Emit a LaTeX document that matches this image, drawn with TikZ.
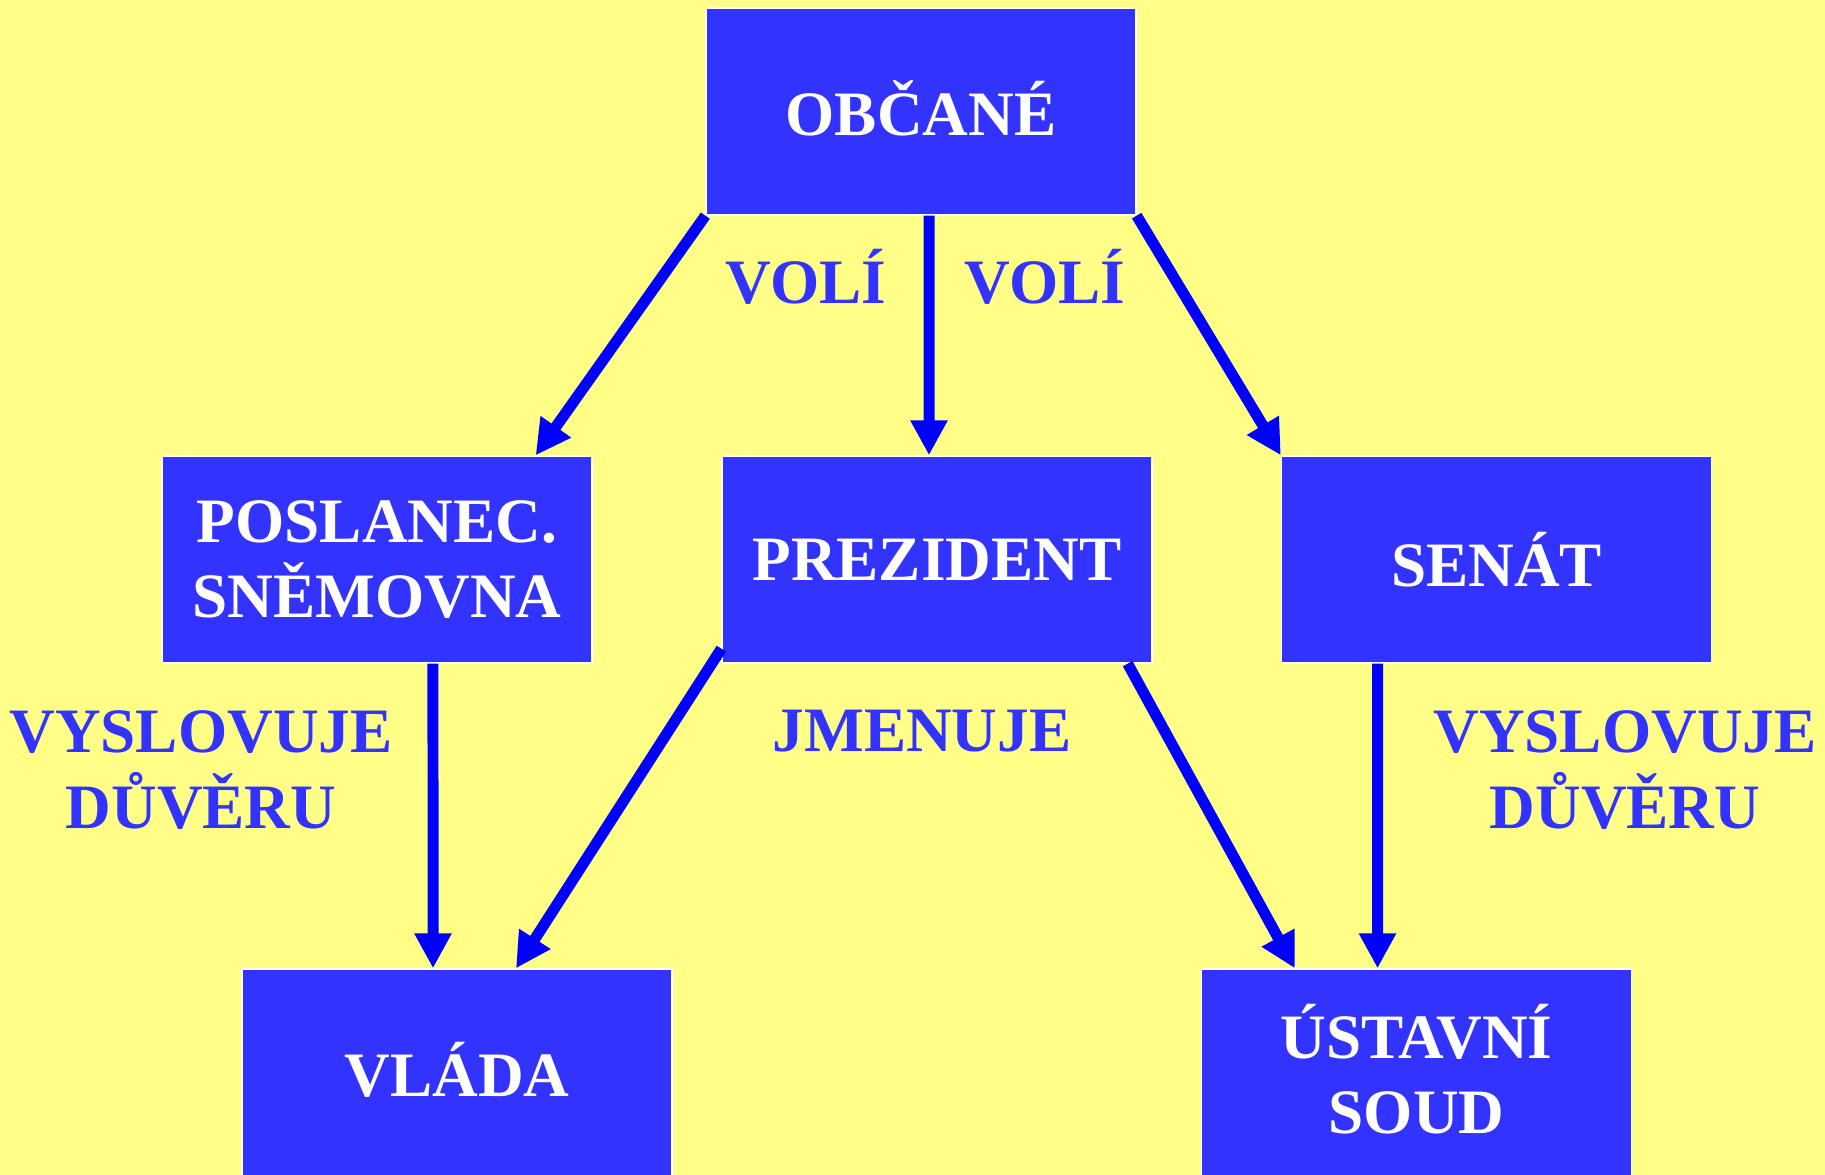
\documentclass[tikz,border=0pt]{standalone}
\usepackage{fontspec}
\setmainfont{Liberation Serif}
\usetikzlibrary{arrows.meta}
\definecolor{pozadi}{HTML}{FFFF88}
\definecolor{modra}{HTML}{3333FF}
\definecolor{sipkova}{HTML}{0000FF}
\newcommand{\nahoru}{\rule[-0.14cm]{0pt}{0pt}}

\begin{document}
\begin{tikzpicture}[x=0.02cm,y=-0.02cm]
\tikzset{blok/.style={draw=white, line width=0.8pt, fill=modra, text=white, minimum width=8.6cm, minimum height=4.14cm, align=center, inner sep=0pt, font=\bfseries\fontsize{36}{43}\selectfont}}
\tikzset{popis/.style={text=modra, align=center, inner sep=0pt, anchor=base, font=\bfseries\fontsize{36}{43}\selectfont}}
\tikzset{sipka/.style={draw=sipkova, line width=0.22cm, -{Triangle[width=0.7cm,length=0.7cm]}}}
\fill[pozadi] (0,0) rectangle (1825,1175);
\useasboundingbox (0,0) rectangle (1825,1175);
\node[blok] (obcane) at (921,111.5) {OBČANÉ\nahoru};
\node[blok] (poslanec) at (377,559.5) {POSLANEC.\\SNĚMOVNA};
\node[blok] (prezident) at (937,559.5) {PREZIDENT};
\node[blok] (senat) at (1496.5,559.5) {SENÁT};
\node[blok] (vlada) at (457,1072.5) {VLÁDA\nahoru};
\node[blok] (ustavni) at (1416.5,1072.5) {ÚSTAVNÍ\\SOUD\nahoru};
\node[popis] (voli1) at (806,304) {VOLÍ};
\node[popis] (voli2) at (1045,304) {VOLÍ};
\node[popis] (jmenuje) at (922,751) {JMENUJE};
\node[popis] (duvera1) at (201,828) {VYSLOVUJE\\DŮVĚRU};
\node[popis] (duvera2) at (1625,828) {VYSLOVUJE\\DŮVĚRU};
\draw[sipka] (obcane.south west) -- ([xshift=-1.14cm]poslanec.north east);
\draw[sipka] ([xshift=0.16cm]obcane.south) -- ([xshift=-0.16cm]prezident.north);
\draw[sipka] (obcane.south east) -- (senat.north west);
\draw[sipka] ([xshift=1.12cm]poslanec.south) -- ([xshift=-0.48cm]vlada.north);
\draw[sipka] ([yshift=0.3cm]prezident.south west) -- ([xshift=1.18cm]vlada.north);
\draw[sipka] ([xshift=-0.5cm]prezident.south east) -- ([xshift=1.88cm]ustavni.north west);
\draw[sipka] ([xshift=-2.38cm]senat.south) -- ([xshift=-0.78cm]ustavni.north);
\end{tikzpicture}
\end{document}
